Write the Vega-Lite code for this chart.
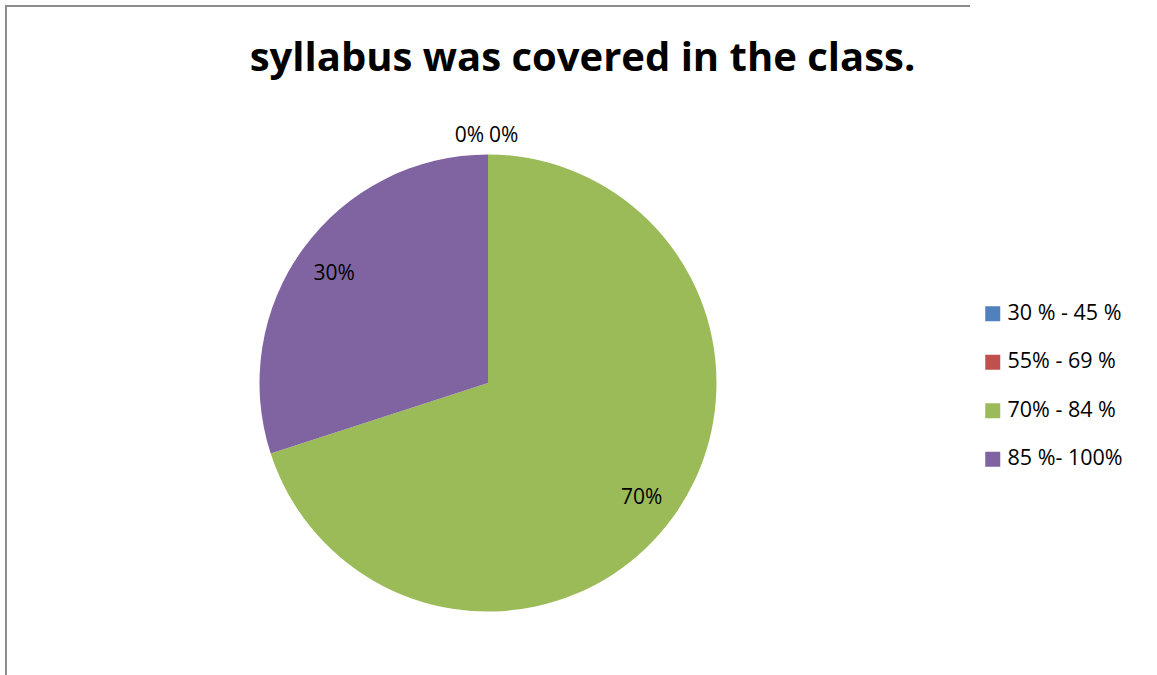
{
  "$schema": "https://vega.github.io/schema/vega-lite/v6.json",
  "autosize": "none",
  "padding": {"left": 6, "top": 6, "right": 187, "bottom": 0},
  "width": 964,
  "height": 754,
  "background": "white",
  "config": {
    "view": {"stroke": null},
    "font": "Open Sans"
  },
  "title": {
    "text": "syllabus was covered in the class.",
    "font": "Open Sans",
    "fontSize": 40,
    "fontWeight": "bold",
    "color": "#000000",
    "anchor": "middle",
    "frame": "group",
    "offset": 0,
    "baseline": "alphabetic",
    "dx": 94.5,
    "dy": 106
  },
  "data": {
    "values": [
      {"cat": "30 % - 45 %", "share": 0, "order": 1},
      {"cat": "55% - 69 %", "share": 0, "order": 2},
      {"cat": "70% - 84 %", "share": 0.7, "order": 3},
      {"cat": "85 %- 100%", "share": 0.3, "order": 4}
    ]
  },
  "layer": [
    {
      "data": {"values": [{"frame": 1}]},
      "mark": {"type": "rect", "fill": null, "stroke": "#8c8c8c", "strokeWidth": 2, "strokeDash": [964, 1718, 754, 1]},
      "encoding": {}
    },
    {
      "mark": {"type": "arc", "outerRadius": 228.5},
      "encoding": {
        "theta": {"field": "share", "type": "quantitative", "stack": true},
        "order": {"field": "order", "type": "quantitative"},
        "color": {
          "field": "cat",
          "type": "nominal",
          "sort": ["30 % - 45 %", "55% - 69 %", "70% - 84 %", "85 %- 100%"],
          "scale": {
            "domain": ["30 % - 45 %", "55% - 69 %", "70% - 84 %", "85 %- 100%"],
            "range": ["#4F81BD", "#C0504D", "#9BBB59", "#8064A2"]
          },
          "legend": {
            "title": null,
            "orient": "none",
            "legendX": 976,
            "legendY": 297,
            "padding": 0,
            "symbolType": "square",
            "symbolSize": 225,
            "symbolStrokeWidth": 0,
            "labelFont": "Open Sans",
            "labelFontSize": 21.5,
            "labelColor": "#000000",
            "labelOffset": 4,
            "labelLimit": 300,
            "rowPadding": 25.5
          }
        }
      }
    },
    {
      "mark": {"type": "text", "radius": 190, "font": "Open Sans", "fontSize": 21, "color": "#000000", "dy": 3},
      "encoding": {
        "theta": {"field": "share", "type": "quantitative", "stack": true},
        "order": {"field": "order", "type": "quantitative"},
        "text": {
          "condition": {"test": "datum.share > 0", "field": "share", "type": "quantitative", "format": ".0%"},
          "value": ""
        }
      }
    },
    {
      "mark": {"type": "text", "radius": 248, "font": "Open Sans", "fontSize": 21, "color": "#000000", "align": "right", "dx": -4, "dy": 1},
      "encoding": {
        "theta": {"field": "share", "type": "quantitative", "stack": true},
        "order": {"field": "order", "type": "quantitative"},
        "text": {
          "condition": {"test": "datum.cat === '30 % - 45 %'", "field": "share", "type": "quantitative", "format": ".0%"},
          "value": ""
        }
      }
    },
    {
      "mark": {"type": "text", "radius": 248, "font": "Open Sans", "fontSize": 21, "color": "#000000", "align": "left", "dx": 1, "dy": 1},
      "encoding": {
        "theta": {"field": "share", "type": "quantitative", "stack": true},
        "order": {"field": "order", "type": "quantitative"},
        "text": {
          "condition": {"test": "datum.cat === '55% - 69 %'", "field": "share", "type": "quantitative", "format": ".0%"},
          "value": ""
        }
      }
    }
  ]
}
